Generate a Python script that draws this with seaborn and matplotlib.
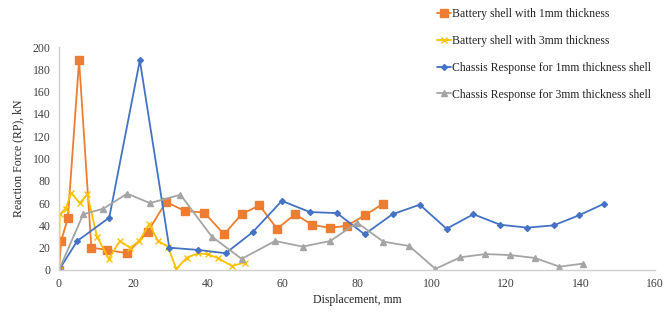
import matplotlib
matplotlib.use("Agg")
import matplotlib.pyplot as plt
import seaborn as sns
import pandas as pd

# Series data (Displacement mm, Reaction force kN)
bat1_x = [0, 0.6, 2.4, 5.4, 8.7, 13.0, 18.3, 23.8, 28.7, 33.8, 39.0, 44.3, 49.0, 53.8, 58.5, 63.4, 67.9, 72.7, 77.3, 82.2, 87.0]
bat1_y = [0, 26, 47, 188, 20, 18, 15, 34, 61, 53, 51.5, 32, 50, 58, 37, 50, 40.6, 37.7, 39.8, 49.3, 59.5]

bat3_x = [0, 0.2, 1.8, 3.3, 5.6, 7.6, 10.2, 13.4, 16.3, 19.1, 21.5, 24.2, 26.6, 29.2, 31.5, 34.3, 37.3, 40.0, 42.8, 46.4, 49.8]
bat3_y = [0, 50, 55, 69, 60, 68, 30, 10, 26, 20, 26, 41, 26, 21, 1, 11, 15, 14, 10.5, 3.6, 6.6]

ch1_x = [0, 4.9, 13.5, 21.7, 29.6, 37.4, 44.7, 52.0, 59.8, 67.3, 74.6, 82.0, 89.5, 96.8, 104.0, 111.2, 118.4, 125.6, 132.7, 139.5, 146.3]
ch1_y = [0, 26, 47, 188, 20, 18, 15, 34, 62, 52, 51, 32, 50, 58.6, 37, 50, 40.6, 38, 40, 49, 59.5]

ch3_x = [0, 6.5, 11.9, 18.3, 24.4, 32.6, 41.0, 49.0, 58.0, 65.4, 72.8, 80.0, 87.0, 94.0, 101.0, 107.7, 114.4, 121.0, 127.7, 134.3, 140.6]
ch3_y = [0, 50, 55, 68.5, 60, 67.5, 30, 10, 26, 21, 26, 42.5, 25.5, 21.5, 1, 11.4, 14.3, 13.4, 10.8, 3, 5.7]

labels = ["Battery shell with 1mm thickness",
          "Battery shell with 3mm thickness",
          "Chassis Response for 1mm thickness shell",
          "Chassis Response for 3mm thickness shell"]
x_ticks = [0, 20, 40, 60, 80, 100, 120, 140, 160]
y_ticks = [0, 20, 40, 60, 80, 100, 120, 140, 160, 180, 200]

frames = []
for lab, xs, ys in zip(labels, [bat1_x, bat3_x, ch1_x, ch3_x], [bat1_y, bat3_y, ch1_y, ch3_y]):
    frames.append(pd.DataFrame({"x": xs, "y": ys, "series": lab}))
df = pd.concat(frames, ignore_index=True)

sns.set_theme(style="white")
plt.rcParams["font.family"] = ["Liberation Serif", "DejaVu Serif"]

fig = plt.figure(figsize=(6.7, 3.22), dpi=100)
ax = fig.add_axes([0.088, 0.1615, 0.89, 0.6925])

palette = {labels[0]: "#ED7D31", labels[1]: "#FFC000", labels[2]: "#4472C4", labels[3]: "#A5A5A5"}
markers = {labels[0]: "s", labels[1]: "x", labels[2]: "D", labels[3]: "^"}
sizes_m = {labels[0]: 6, labels[1]: 5, labels[2]: 3, labels[3]: 5}

for lab in labels:
    sub = df[df["series"] == lab]
    sns.lineplot(data=sub, x="x", y="y", ax=ax, color=palette[lab], marker=markers[lab],
                 markersize=sizes_m[lab], markeredgecolor=palette[lab], markeredgewidth=1.0,
                 linewidth=1.3, sort=False, estimator=None, label=lab)

ax.set_xlim(0, 160)
ax.set_ylim(0, 200)
ax.set_xticks(x_ticks)
ax.set_yticks(y_ticks)
ax.tick_params(axis="both", labelsize=8.5, colors="#404040", length=3, width=0.8, pad=3)
ax.tick_params(axis="both", color="#BFBFBF")
for s in ["top", "right"]:
    ax.spines[s].set_visible(False)
for s in ["left", "bottom"]:
    ax.spines[s].set_color("#D0D0D0")
    ax.spines[s].set_linewidth(1.0)
ax.grid(False)

ax.set_xlabel("Displacement, mm", fontsize=8.5, color="#262626", labelpad=3)
ax.set_ylabel("Reaction Force (RP), kN", fontsize=8.5, color="#262626", labelpad=6)

leg = ax.legend(loc="upper left", bbox_to_anchor=(429 / 670, 1.0), bbox_transform=fig.transFigure,
                frameon=False, fontsize=8.5, handlelength=1.2, handletextpad=0.05,
                labelspacing=1.25, borderaxespad=0.3)
for t in leg.get_texts():
    t.set_color("#262626")

fig.savefig("out.png", dpi=100)
